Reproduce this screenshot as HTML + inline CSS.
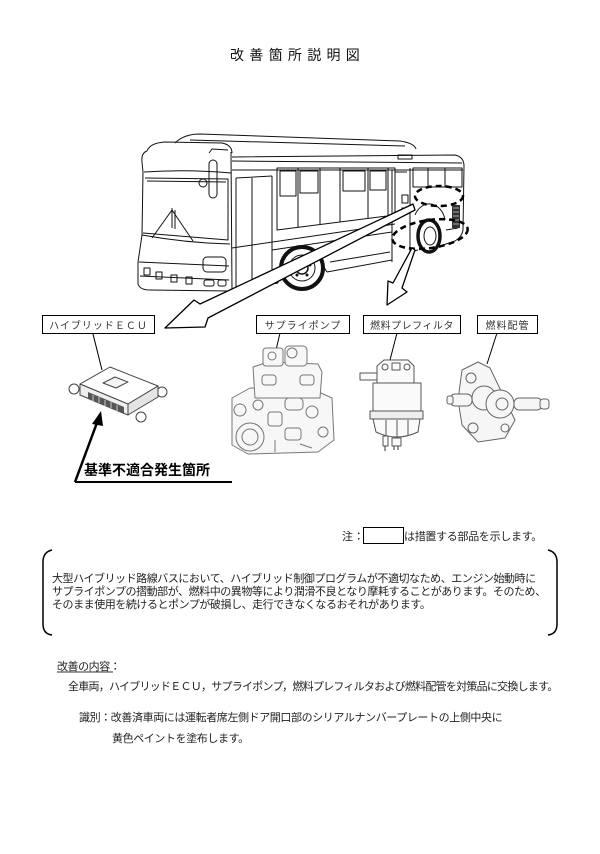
<!DOCTYPE html>
<html><head><meta charset="utf-8">
<style>
html,body{margin:0;padding:0;background:#fff;}
body{width:600px;height:854px;position:relative;overflow:hidden;font-family:"Liberation Sans","Noto Sans CJK JP",sans-serif;color:#222;}
.t{position:absolute;white-space:nowrap;font-size:11px;line-height:14px;letter-spacing:-0.45px;}
.lbl{position:absolute;border:1px solid #000;box-sizing:border-box;height:19px;display:flex;align-items:center;justify-content:center;font-size:10px;letter-spacing:1px;color:#333;background:#fff;}
svg{position:absolute;left:0;top:0;}
</style></head><body>
<svg width="600" height="854" viewBox="0 0 600 854" xmlns="http://www.w3.org/2000/svg">
<!-- BUS -->
<g fill="none" stroke="#111" stroke-width="1" stroke-linejoin="round">
  <!-- roof AC -->
  <path d="M175,143 Q184,134 200,134 L400,141 Q414,143 416,149"/>
  <path d="M190,140 L405,146"/>
  <!-- front cap -->
  <path d="M147,151 Q150,143 165,142 L222,143 Q232,145 232,153"/>
  <path d="M144,172 Q188,169 231,173"/>
  <path d="M147,151 Q141,153 142,162 L143,172"/>
  <!-- front outline -->
  <path d="M143,172 L142,235 L138,262 L138,284 Q140,290 150,290 L228,291"/>
  <path d="M231,152 L232,291"/>
  <!-- windshield -->
  <path d="M145,178 L228,179 L228,240 L143,233"/>
  <path d="M147,181 L226,182"/>
  <!-- wipers -->
  <path d="M152,238 L172,210 L193,241"/>
  <path d="M172,208 L172,228 M175,210 L175,229"/>
  <!-- lower front -->
  <path d="M142,235 Q186,243 230,244"/>
  <path d="M139,262 L229,266"/>
  <path d="M140,276 L229,280"/>
  <rect x="203" y="257" width="23" height="15" rx="4"/>
  <rect x="144" y="268" width="6" height="7"/>
  <rect x="156" y="272" width="6" height="7"/>
  <rect x="171" y="275" width="6" height="7"/>
  <rect x="186" y="277" width="6" height="7"/>
  <rect x="204" y="280" width="10" height="6" rx="2"/>
  <rect x="218" y="280" width="8" height="6" rx="2"/>
  <!-- mirror -->
  <path d="M209,153 L212,149 L228,150"/>
  <rect x="209" y="160" width="8" height="38" rx="4"/>
  <circle cx="203" cy="183" r="4"/>
  <!-- side top -->
  <path d="M232,157 L455,155 Q464,157 464,166"/>
  <path d="M232,161 L462,163"/>
  <path d="M232,170 L463,170"/>
  <!-- front door -->
  <path d="M236,178 L236,291 M252,178 L252,287 M272,176 L272,283"/>
  <path d="M236,178 L272,176"/>
  <!-- windows -->
  <path d="M277,168 L395,168 L395,215 L277,230 Z"/>
  <path d="M298,168 L298,227 M320,168 L320,224 M340,168 L340,222 M368,168 L368,218 M388,168 L388,216"/>
  <rect x="280" y="171" width="16" height="25"/>
  <rect x="300" y="171" width="18" height="22"/>
  <rect x="343" y="171" width="22" height="20"/>
  <rect x="370" y="171" width="16" height="19"/>
  <!-- belt lines -->
  <path d="M232,248 L395,224"/>
  <path d="M272,250 L392,232"/>
  <!-- skirt -->
  <path d="M232,291 L278,283"/>
  <path d="M278,283 A26,26 0 0 1 327,272"/>
  <path d="M327,272 L392,260"/>
  <path d="M330,262 L390,252"/>
  <!-- rear door -->
  <path d="M392,170 L392,262 M410,168 L410,252 M395,172 L407,172"/>
  <rect x="398" y="155" width="14" height="4"/>
  <!-- rear windows -->
  <path d="M413,168 L462,168 L462,187 L413,187 Z M428,168 L428,187 M445,168 L445,187"/>
  <!-- rear body -->
  <path d="M464,166 L463,230 Q462,237 455,241 L440,246"/>
  <path d="M410,252 L418,250"/>
  <path d="M415,215 A16,20 0 0 1 445,220"/>
  <rect x="402" y="195" width="6" height="8"/>
  <rect x="402" y="208" width="6" height="6"/>
  <path d="M446,230 L458,228"/>
</g>
<!-- grille -->
<rect x="452" y="205" width="8" height="23" fill="#333"/>
<path d="M453,208 L459,208 M453,212 L459,212 M453,216 L459,216 M453,220 L459,220 M453,224 L459,224" stroke="#aaa" stroke-width="1"/>
<!-- front wheel -->
<circle cx="302" cy="268" r="21" fill="#fff" stroke="#111" stroke-width="4"/>
<circle cx="302" cy="268" r="13" fill="#fff" stroke="#111" stroke-width="1"/>
<circle cx="302" cy="268" r="6" fill="#fff" stroke="#111" stroke-width="1.5"/>
<g fill="#111"><circle cx="302" cy="259" r="1.5"/><circle cx="310" cy="265" r="1.5"/><circle cx="307" cy="275" r="1.5"/><circle cx="297" cy="275" r="1.5"/><circle cx="294" cy="265" r="1.5"/></g>
<!-- rear wheel -->
<ellipse cx="429" cy="236" rx="11" ry="16" fill="#fff" stroke="#111" stroke-width="3.5"/>
<ellipse cx="430" cy="236" rx="6" ry="9" fill="#fff" stroke="#111" stroke-width="1"/>
<!-- dashed ellipses -->
<ellipse cx="439" cy="196" rx="24" ry="10" fill="none" stroke="#000" stroke-width="2.5" stroke-dasharray="6,4"/>
<ellipse cx="430" cy="234" rx="38" ry="14" fill="none" stroke="#000" stroke-width="2.5" stroke-dasharray="6,4" transform="rotate(-8 430 234)"/>
<!-- arrows -->
<polygon points="413,204 200,304 194,300 165,328 205,327 208,318 415,210" fill="#fff" stroke="#000" stroke-width="1.3" stroke-linejoin="round"/>
<polygon points="412,248 393,283 388,281 387,305 407,292 402,288 415,250" fill="#fff" stroke="#000" stroke-width="1.3" stroke-linejoin="round"/>

<!-- leader lines -->
<g stroke="#000" stroke-width="1">
  <line x1="93" y1="334" x2="102" y2="370"/>
  <line x1="280" y1="333" x2="276" y2="350"/>
  <line x1="397" y1="333" x2="390" y2="360"/>
  <line x1="497" y1="333" x2="487" y2="364"/>
</g>

<!-- ECU part -->
<g stroke="#444" stroke-width="1" fill="#fff" stroke-linejoin="round">
  <circle cx="74" cy="389" r="5"/>
  <circle cx="162" cy="392" r="5"/>
  <circle cx="141" cy="417" r="5"/>
  <polygon points="80,384 110,367 158,386 128,404"/>
  <polygon points="80,384 128,404 128,415 80,395" fill="#eee"/>
  <polygon points="128,404 158,386 158,397 128,415" fill="#e4e4e4"/>
  <polygon points="103,383 115,377 128,382 116,388" fill="#f4f4f4"/>
</g>
<polygon points="88,392 124,407 124,414 88,399" fill="#555"/>
<g stroke="#ccc" stroke-width="1"><line x1="93" y1="395" x2="93" y2="401"/><line x1="99" y1="397" x2="99" y2="403"/><line x1="105" y1="400" x2="105" y2="406"/><line x1="111" y1="402" x2="111" y2="408"/><line x1="117" y1="405" x2="117" y2="411"/></g>

<!-- indicator arrow -->
<line x1="75" y1="482" x2="232" y2="482" stroke="#000" stroke-width="2"/>
<line x1="75" y1="482" x2="98" y2="420" stroke="#000" stroke-width="2.5"/>
<polygon points="101,411 92,424 103,426" fill="#000"/>

<!-- pump part -->
<g stroke="#777" stroke-width="1" fill="#f7f7f7" stroke-linejoin="round">
  <path d="M232,398 L250,388 L310,388 L332,398 L334,440 L318,452 L248,454 L232,445 Z"/>
  <path d="M253,367 L268,362 L318,364 L322,372 L320,398 L255,398 Z"/>
  <rect x="263" y="348" width="20" height="18" rx="3"/>
  <rect x="285" y="346" width="22" height="20" rx="4"/>
  <circle cx="292" cy="353" r="5"/>
  <circle cx="272" cy="356" r="4"/>
  <circle cx="250" cy="437" r="14"/>
  <circle cx="250" cy="437" r="8"/>
  <circle cx="240" cy="410" r="6"/>
  <circle cx="258" cy="405" r="5"/>
  <rect x="285" y="398" width="18" height="12" rx="4"/>
  <rect x="268" y="412" width="14" height="14" rx="3"/>
  <rect x="285" y="428" width="16" height="12" rx="3"/>
  <circle cx="312" cy="412" r="6"/>
  <circle cx="323" cy="432" r="5"/>
  <rect x="300" y="375" width="14" height="10" rx="3"/>
  <rect x="262" y="375" width="14" height="10" rx="3"/>
  <path d="M275,440 L275,452 M300,444 L312,448"/>
</g>

<!-- filter part -->
<g stroke="#555" stroke-width="1" fill="#fafafa" stroke-linejoin="round">
  <rect x="360" y="373" width="17" height="7"/>
  <path d="M377,383 L377,366 L384,360 L408,360 L414,366 L414,383 Z"/>
  <circle cx="385" cy="367" r="3"/>
  <circle cx="407" cy="367" r="3"/>
  <rect x="392" y="363" width="8" height="7"/>
  <path d="M373,383 L421,383 L421,411 L373,411 Z"/>
  <rect x="370" y="411" width="53" height="8" fill="#eee"/>
  <path d="M373,419 L420,419 L418,432 Q397,442 376,432 Z"/>
  <path d="M386,420 L386,436 M397,420 L397,440 M408,420 L408,436"/>
  <rect x="383" y="436" width="5" height="10"/>
  <rect x="392" y="438" width="9" height="8"/>
</g>
<path d="M385,446 L385,451 M394,446 L394,450 M398,446 L398,450" stroke="#333"/>

<!-- fuel pipe part -->
<g stroke="#666" stroke-width="1" fill="#f6f6f6" stroke-linejoin="round">
  <path d="M462,370 L478,362 L490,368 L515,420 L505,438 L478,442 L462,425 L458,400 Z"/>
  <circle cx="471" cy="378" r="5"/>
  <circle cx="473" cy="428" r="5"/>
  <circle cx="505" cy="428" r="4"/>
  <rect x="450" y="394" width="22" height="12" rx="5"/>
  <rect x="447" y="396" width="6" height="8" rx="2"/>
  <circle cx="484" cy="398" r="12"/>
  <circle cx="500" cy="404" r="14"/>
  <circle cx="502" cy="404" r="6"/>
  <rect x="514" y="398" width="28" height="12" rx="5"/>
  <rect x="540" y="399" width="9" height="10" rx="3"/>
</g>

<!-- note box -->
<rect x="363.5" y="527.5" width="40" height="16" fill="#fff" stroke="#000" stroke-width="1"/>
<!-- brackets -->
<path d="M52,550 Q43,552 43,562 L43,624 Q43,634 52,635" fill="none" stroke="#000" stroke-width="1.5"/>
<path d="M548,550 Q557,552 557,562 L557,624 Q557,634 548,635" fill="none" stroke="#000" stroke-width="1.5"/>
<line x1="57" y1="672" x2="113" y2="672" stroke="#333" stroke-width="1"/>
</svg>

<div class="t" style="left:230px;top:46px;font-size:14px;line-height:18px;letter-spacing:5.3px;color:#111;">改善箇所説明図</div>

<div class="lbl" style="left:42px;top:315px;width:113px;">ハイブリッドＥＣＵ</div>
<div class="lbl" style="left:256px;top:315px;width:94px;">サプライポンプ</div>
<div class="lbl" style="left:363px;top:315px;width:98px;letter-spacing:0.5px;">燃料プレフィルタ</div>
<div class="lbl" style="left:477px;top:315px;width:61px;">燃料配管</div>

<div class="t" style="left:84px;top:461px;font-size:14px;line-height:18px;font-weight:bold;letter-spacing:0;color:#000;">基準不適合発生箇所</div>

<div class="t" style="left:342px;top:530px;letter-spacing:0.2px;">注：</div>
<div class="t" style="left:404px;top:530px;letter-spacing:-0.3px;">は措置する部品を示します。</div>

<div class="t" style="left:52px;top:572px;">大型ハイブリッド路線バスにおいて、ハイブリッド制御プログラムが不適切なため、エンジン始動時に</div>
<div class="t" style="left:52px;top:585px;">サプライポンプの摺動部が、燃料中の異物等により潤滑不良となり摩耗することがあります。そのため、</div>
<div class="t" style="left:52px;top:598px;">そのまま使用を続けるとポンプが破損し、走行できなくなるおそれがあります。</div>

<div class="t" style="left:57px;top:660px;">改善の内容：</div>
<div class="t" style="left:68px;top:680px;letter-spacing:-0.75px;">全車両，ハイブリッドＥＣＵ，サプライポンプ，燃料プレフィルタおよび燃料配管を対策品に交換します。</div>
<div class="t" style="left:79px;top:711px;letter-spacing:-0.4px;">識別：改善済車両には運転者席左側ドア開口部のシリアルナンバープレートの上側中央に</div>
<div class="t" style="left:112px;top:732px;letter-spacing:-0.4px;">黄色ペイントを塗布します。</div>
</body></html>
